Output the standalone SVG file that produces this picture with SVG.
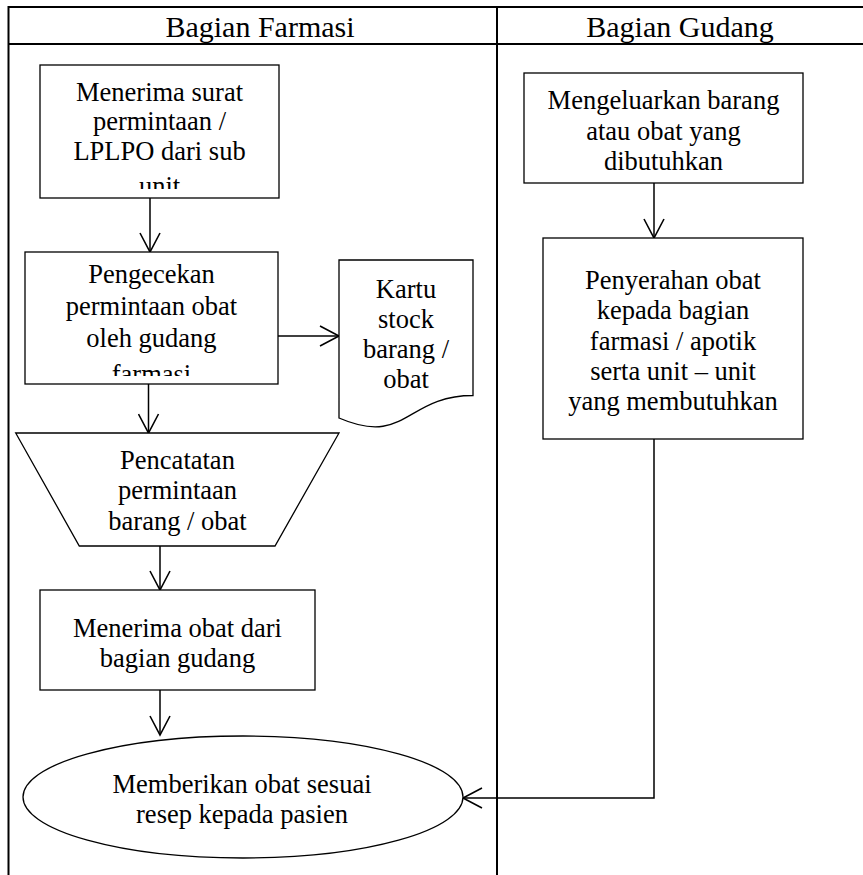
<svg xmlns="http://www.w3.org/2000/svg" width="863" height="875" viewBox="0 0 863 875">
<style>
.frame{stroke:#000;stroke-width:2;fill:none}
.shape{stroke:#000;stroke-width:1.3;fill:#fff}
.conn{stroke:#000;stroke-width:1.5;fill:none}
.t{font-family:"Liberation Serif","Times New Roman",serif;font-size:26.5px;fill:#000;text-anchor:middle}
.h{font-family:"Liberation Serif","Times New Roman",serif;font-size:30px;fill:#000;text-anchor:middle}
</style>
<defs>
<marker id="arr" viewBox="0 0 22 22" refX="20" refY="11" markerWidth="22" markerHeight="22" markerUnits="userSpaceOnUse" orient="auto">
<path d="M1,1 L20,11 L1,21" fill="none" stroke="#000" stroke-width="1.6"/>
</marker>
<clipPath id="c1"><rect x="40" y="65" width="239" height="124"/></clipPath>
<clipPath id="c2"><rect x="25" y="252" width="253" height="124"/></clipPath>
</defs>
<rect width="863" height="875" fill="#fff"/>
<g id="table">
<line class="frame" x1="8.5" y1="7" x2="863" y2="7"/>
<line class="frame" x1="8.5" y1="44" x2="863" y2="44"/>
<line class="frame" x1="8.5" y1="6" x2="8.5" y2="875"/>
<line class="frame" x1="497" y1="6" x2="497" y2="875"/>
<text class="h" x="260" y="37">Bagian Farmasi</text>
<text class="h" x="680" y="37">Bagian Gudang</text>
</g>
<g id="connectors">
<line class="conn" x1="150" y1="198" x2="150" y2="252" marker-end="url(#arr)"/>
<line class="conn" x1="278" y1="336" x2="339" y2="336" marker-end="url(#arr)"/>
<line class="conn" x1="148.5" y1="384" x2="148.5" y2="433" marker-end="url(#arr)"/>
<line class="conn" x1="160" y1="546" x2="160" y2="590" marker-end="url(#arr)"/>
<line class="conn" x1="160" y1="690" x2="160" y2="735" marker-end="url(#arr)"/>
<line class="conn" x1="654" y1="183" x2="654" y2="238" marker-end="url(#arr)"/>
<polyline class="conn" points="654,439 654,798 463,798" marker-end="url(#arr)"/>
</g>
<g id="n1">
<rect class="shape" x="40" y="65" width="239" height="133"/>
<g clip-path="url(#c1)">
<text class="t" x="159.5" y="101">Menerima surat</text>
<text class="t" x="159.5" y="130">permintaan /</text>
<text class="t" x="159.5" y="160">LPLPO dari sub</text>
<text class="t" x="159.5" y="195">unit</text>
</g>
</g>
<g id="n2">
<rect class="shape" x="25" y="252" width="253" height="132"/>
<g clip-path="url(#c2)">
<text class="t" x="151.5" y="283">Pengecekan</text>
<text class="t" x="151.5" y="315">permintaan obat</text>
<text class="t" x="151.5" y="347">oleh gudang</text>
<text class="t" x="151.5" y="383">farmasi</text>
</g>
</g>
<g id="n3">
<path class="shape" d="M339,260 H473 V395.5 C406,395.5 406,447 339,418 Z"/>
<text class="t" x="406" y="298">Kartu</text>
<text class="t" x="406" y="328">stock</text>
<text class="t" x="406" y="358">barang /</text>
<text class="t" x="406" y="388">obat</text>
</g>
<g id="n4">
<polygon class="shape" points="15.7,433 339,433 275,546 79.3,546"/>
<text class="t" x="177.5" y="469">Pencatatan</text>
<text class="t" x="177.5" y="499">permintaan</text>
<text class="t" x="177.5" y="530">barang / obat</text>
</g>
<g id="n5">
<rect class="shape" x="40" y="590" width="275" height="100"/>
<text class="t" x="177.5" y="637">Menerima obat dari</text>
<text class="t" x="177.5" y="667">bagian gudang</text>
</g>
<g id="n6">
<ellipse class="shape" cx="243" cy="797" rx="220" ry="61"/>
<text class="t" x="242" y="793">Memberikan obat sesuai</text>
<text class="t" x="242" y="823">resep kepada pasien</text>
</g>
<g id="n7">
<rect class="shape" x="524" y="73" width="279" height="110"/>
<text class="t" x="663.5" y="109">Mengeluarkan barang</text>
<text class="t" x="663.5" y="139.5">atau obat yang</text>
<text class="t" x="663.5" y="170">dibutuhkan</text>
</g>
<g id="n8">
<rect class="shape" x="543" y="238" width="260" height="201"/>
<text class="t" x="673" y="289">Penyerahan obat</text>
<text class="t" x="673" y="319">kepada bagian</text>
<text class="t" x="673" y="350">farmasi / apotik</text>
<text class="t" x="673" y="380">serta unit – unit</text>
<text class="t" x="673" y="410">yang membutuhkan</text>
</g>
</svg>
